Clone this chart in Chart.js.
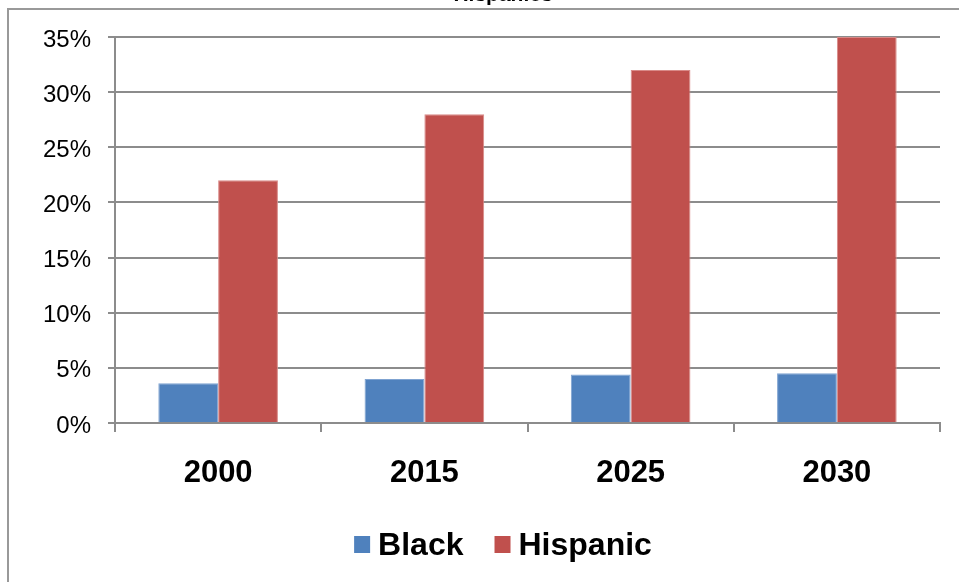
<!DOCTYPE html>
<html>
<head>
<meta charset="utf-8">
<script src="https://cdn.jsdelivr.net/npm/chart.js@4.4.1/dist/chart.umd.min.js"></script>
<style>
  html, body { margin: 0; padding: 0; background: #ffffff; overflow: hidden; }
  #wrap { position: relative; width: 1006px; height: 582px; }
</style>
</head>
<body>
<div id="wrap"><canvas id="chart" width="1006" height="582"></canvas></div>
<script>
// Share of population (%) by year
const years = ['2000', '2015', '2025', '2030'];
const black = [3.6, 4.0, 4.4, 4.5];
const hispanic = [22, 28, 32, 35];
const seriesNames = ['Black', 'Hispanic'];
const seriesColors = ['#4F81BD', '#C0504D'];
const seriesEdges = ['#7FA3D1', '#D98A88'];
const titleText = 'Hispanics';

const gridGray = '#8C8C8C';

// Outer frame and the title line above it
const framePlugin = {
  id: 'frame',
  beforeDraw(chart) {
    const ctx = chart.ctx;
    ctx.save();
    ctx.fillStyle = '#ffffff';
    ctx.fillRect(0, 0, chart.width, chart.height);
    ctx.strokeStyle = '#999999';
    ctx.lineWidth = 2;
    ctx.beginPath();
    ctx.moveTo(8, chart.height + 2);
    ctx.lineTo(8, 9);
    ctx.lineTo(chart.width + 2, 9);
    ctx.stroke();
    ctx.fillStyle = '#000000';
    ctx.font = 'bold 21px "Liberation Sans", Arial, sans-serif';
    ctx.textAlign = 'center';
    ctx.textBaseline = 'alphabetic';
    ctx.fillText(titleText, 503, 1);
    ctx.restore();
  }
};

// Legend drawn under the axis, boxes tight to their labels
const legendPlugin = {
  id: 'bottomLegend',
  afterDraw(chart) {
    const ctx = chart.ctx;
    ctx.save();
    ctx.font = 'bold 32px "Liberation Sans", Arial, sans-serif';
    ctx.textBaseline = 'middle';
    ctx.textAlign = 'left';
    const box = 16, gapText = 8, gapItem = 31;
    const items = chart.data.datasets.map((d) => ({
      label: d.label, color: d.backgroundColor, w: box + gapText + ctx.measureText(d.label).width
    }));
    const total = items.reduce((s, it) => s + it.w, 0) + gapItem * (items.length - 1);
    let x = 503 - total / 2;
    const cy = 545;
    items.forEach((it) => {
      ctx.fillStyle = it.color;
      ctx.fillRect(x, cy - 9, box, 17);
      ctx.fillStyle = '#000000';
      ctx.fillText(it.label, x + box + gapText, cy + 1);
      x += it.w + gapItem;
    });
    ctx.restore();
  }
};

new Chart(document.getElementById('chart'), {
  type: 'bar',
  data: {
    labels: years,
    datasets: [
      { label: seriesNames[0], data: black, backgroundColor: seriesColors[0], borderColor: seriesEdges[0], borderWidth: 1 },
      { label: seriesNames[1], data: hispanic, backgroundColor: seriesColors[1], borderColor: seriesEdges[1], borderWidth: 1 }
    ]
  },
  options: {
    responsive: false,
    animation: false,
    devicePixelRatio: 1,
    layout: { padding: { top: 37, right: 66, left: 0, bottom: 0 } },
    datasets: { bar: { categoryPercentage: 0.58, barPercentage: 1.0 } },
    plugins: {
      legend: { display: false },
      title: { display: false },
      tooltip: { enabled: false }
    },
    scales: {
      x: {
        offset: true,
        grid: { display: true, drawOnChartArea: false, drawTicks: true, tickLength: 9, color: gridGray, lineWidth: 2, offset: true },
        border: { display: true, color: gridGray, width: 2 },
        ticks: { color: '#000000', padding: 23, font: { family: '"Liberation Sans", Arial, sans-serif', size: 31, weight: 'bold' } },
        afterFit(scale) { scale.height = 159; }
      },
      y: {
        min: 0,
        max: 35,
        grid: { color: gridGray, lineWidth: 2, drawTicks: true, tickLength: 7 },
        border: { display: true, color: gridGray, width: 2 },
        ticks: {
          stepSize: 5,
          color: '#000000',
          padding: 17,
          labelOffset: 3,
          font: { family: '"Liberation Sans", Arial, sans-serif', size: 24 },
          callback: (v) => v + '%'
        },
        afterFit(scale) { scale.width = 115; }
      }
    }
  },
  plugins: [framePlugin, legendPlugin]
});
</script>
</body>
</html>
